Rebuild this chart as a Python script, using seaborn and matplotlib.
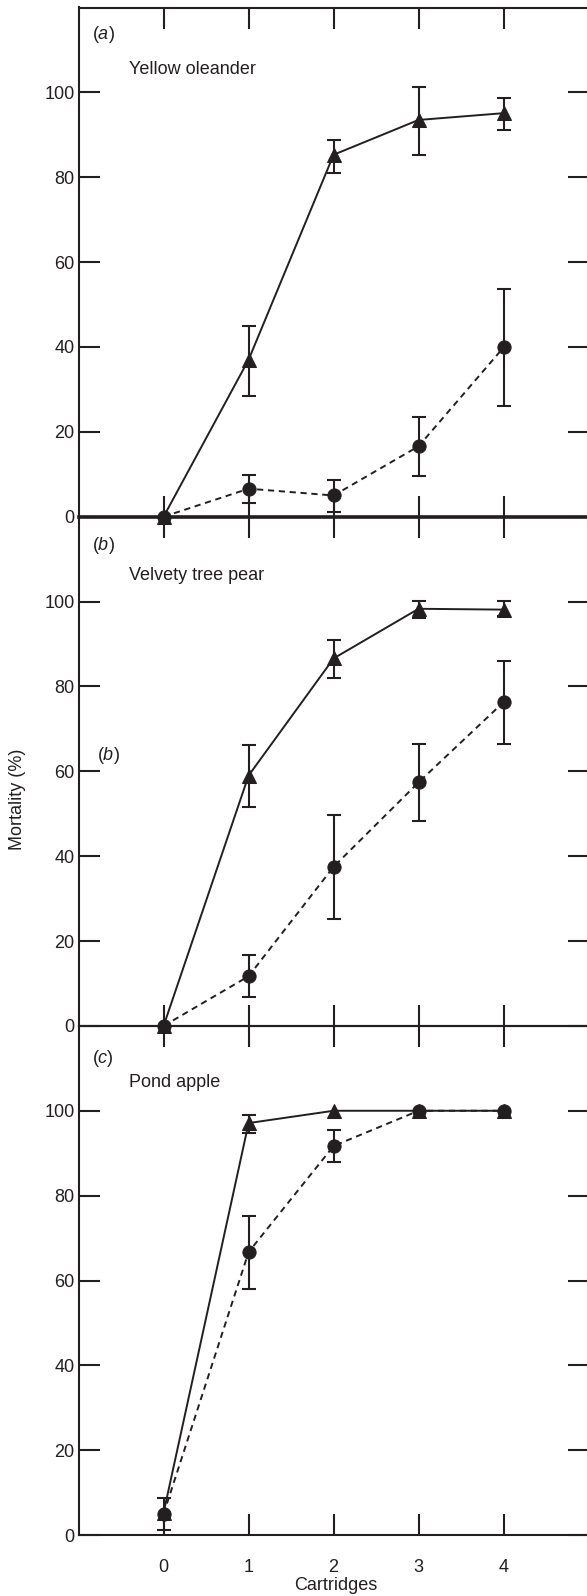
import numpy as np
import pandas as pd
import matplotlib
matplotlib.use("Agg")
import matplotlib.pyplot as plt
import seaborn as sns

# ---------------- data ----------------
cartridges = [0, 1, 2, 3, 4]
x_ticks = [0, 1, 2, 3, 4]
y_ticks = [0, 20, 40, 60, 80, 100]

panel_letters = ["a", "b", "c"]
species = ["Yellow oleander", "Velvety tree pear", "Pond apple"]

# Panel (a) Yellow oleander
a_tri = [0, 37.0, 85.3, 93.5, 95.1]
a_tri_lo = [0, 28.4, 81.1, 85.3, 91.2]
a_tri_hi = [0, 45.0, 88.8, 101.2, 98.7]
a_cir = [0, 6.6, 5.0, 16.6, 39.9]
a_cir_lo = [0, 3.2, 1.1, 9.7, 26.2]
a_cir_hi = [0, 9.8, 8.7, 23.5, 53.7]

# Panel (b) Velvety tree pear
b_tri = [0, 59.0, 86.6, 98.3, 98.1]
b_tri_lo = [0, 51.7, 82.0, 96.1, 96.5]
b_tri_hi = [0, 66.1, 91.0, 100.2, 100.2]
b_cir = [0, 11.7, 37.5, 57.4, 76.3]
b_cir_lo = [0, 6.7, 25.3, 48.2, 66.4]
b_cir_hi = [0, 16.7, 49.8, 66.5, 86.1]

# Panel (c) Pond apple
c_tri = [5.3, 97.1, 100, 100, 100]
c_tri_lo = [5.3, 94.7, 100, 100, 100]
c_tri_hi = [5.3, 99.0, 100, 100, 100]
c_cir = [5.0, 66.7, 91.7, 100, 100]
c_cir_lo = [1.3, 58.0, 88.0, 100, 100]
c_cir_hi = [8.8, 75.2, 95.4, 100, 100]

panels = [
    (a_tri, a_tri_lo, a_tri_hi, a_cir, a_cir_lo, a_cir_hi),
    (b_tri, b_tri_lo, b_tri_hi, b_cir, b_cir_lo, b_cir_hi),
    (c_tri, c_tri_lo, c_tri_hi, c_cir, c_cir_lo, c_cir_hi),
]

# ---------------- style ----------------
sns.set_style("ticks")
plt.rcParams["font.family"] = ["Liberation Sans", "DejaVu Sans"]
plt.rcParams["mathtext.fontset"] = "custom"
plt.rcParams["mathtext.rm"] = "Liberation Sans"
plt.rcParams["mathtext.it"] = "Liberation Sans:italic"

INK = "#231f20"
FS = 13

W, H = 587, 1596
fig = plt.figure(figsize=(W / 100, H / 100), dpi=100)

left_px, right_px = 78.6, 588.6
top_px, panel_h = 7.5, 509.2

axes = []
for i in range(3):
    top = top_px + i * panel_h
    ax = fig.add_axes([left_px / W, 1 - (top + panel_h) / H,
                       (right_px - left_px) / W, panel_h / H])
    axes.append(ax)

text_pos = [
    # (letter baseline y, species baseline y)
    (112.6, 104.3),
    (112.2, 105.1),
    (111.2, 105.5),
]

for i, ax in enumerate(axes):
    tri, tri_lo, tri_hi, cir, cir_lo, cir_hi = panels[i]
    df_tri = pd.DataFrame({"Cartridges": cartridges, "Mortality": tri})
    df_cir = pd.DataFrame({"Cartridges": cartridges, "Mortality": cir})

    sns.lineplot(data=df_tri, x="Cartridges", y="Mortality", ax=ax, color=INK,
                 marker="^", markersize=9.5, markeredgecolor=INK, linewidth=1.4,
                 errorbar=None, clip_on=False, zorder=3)
    sns.lineplot(data=df_cir, x="Cartridges", y="Mortality", ax=ax, color=INK,
                 marker="o", markersize=9.5, markeredgecolor=INK, linewidth=1.4,
                 linestyle=(0, (3.2, 2.4)), errorbar=None, clip_on=False, zorder=3)

    for vals, lo, hi in ((tri, tri_lo, tri_hi), (cir, cir_lo, cir_hi)):
        v = np.array(vals, float)
        l = np.array(lo, float)
        h = np.array(hi, float)
        m = (h - l) > 0
        ax.errorbar(np.array(cartridges)[m], v[m], yerr=[v[m] - l[m], h[m] - v[m]],
                    fmt="none", ecolor=INK, elinewidth=1.5, capsize=5,
                    capthick=1.5, zorder=2, clip_on=False)

    ax.set_xlim(-1, 5)
    ax.set_ylim(0, 120)
    ax.set_xticks(x_ticks)
    ax.set_yticks(y_ticks)
    ax.set_xlabel("")
    ax.set_ylabel("")
    ax.tick_params(axis="both", which="both", direction="in", length=15,
                   width=1.5, color=INK, top=True, right=True,
                   labelsize=FS, labelcolor=INK)
    ax.tick_params(axis="y", pad=3)
    ax.tick_params(axis="x", pad=17, labelbottom=(i == 2))
    for s in ax.spines.values():
        s.set_linewidth(1.5)
        s.set_color(INK)
    if i == 0:
        ax.spines["bottom"].set_linewidth(2.6)
    ax.patch.set_alpha(0)

    lb, sb = text_pos[i]
    ax.text(-0.846, lb, "($\\mathit{%s}$)" % panel_letters[i], fontsize=FS,
            color=INK, ha="left", va="baseline")
    ax.text(-0.41, sb, species[i], fontsize=FS, color=INK, ha="left",
            va="baseline")

# stray duplicated panel label inside panel (b)
axes[1].text(-0.787, 62.7, "($\\mathit{b}$)", fontsize=FS, color=INK,
             ha="left", va="baseline")

fig.text(18 / W, 1 - 799.5 / H, "Mortality (%)", rotation=90, fontsize=FS,
         color=INK, ha="center", va="center")
fig.text(336 / W, 1 - 1586 / H, "Cartridges", fontsize=FS, color=INK,
         ha="center", va="center")

fig.savefig("out.png", dpi=100)
